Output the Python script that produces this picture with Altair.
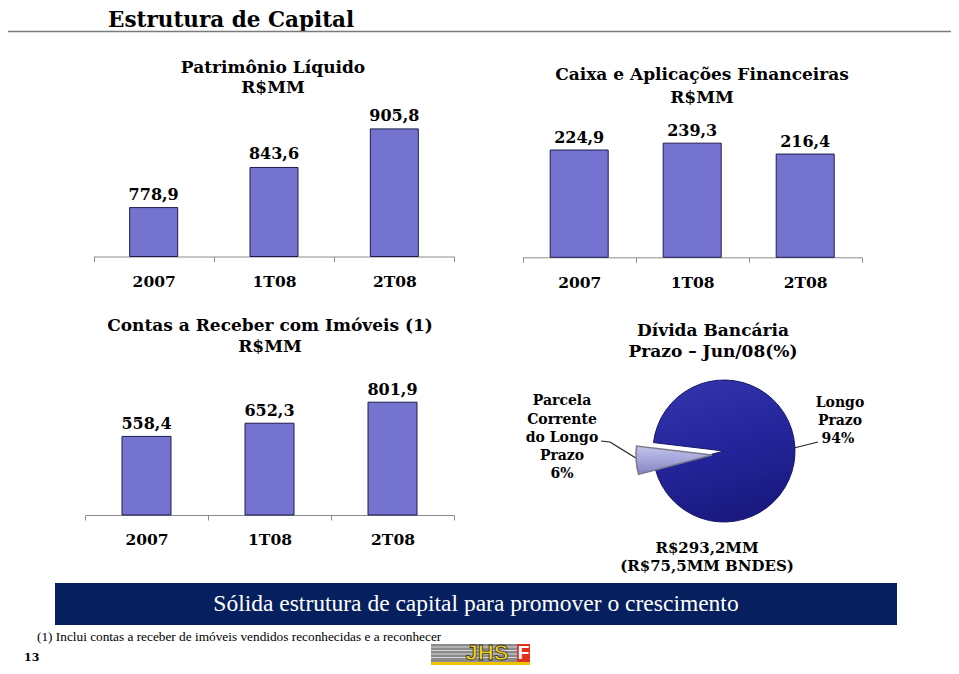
import altair as alt
import pandas as pd

# page is 959x674 with an 8px body margin on every side
W, H = 943, 658


def px(x):
    return x - 8


def py(y):
    return y - 8


# ---------------- data ----------------
periods = ["2007", "1T08", "2T08"]
pl_values = [778.9, 843.6, 905.8]          # Patrimônio Líquido R$MM
caixa_values = [224.9, 239.3, 216.4]       # Caixa e Aplicações Financeiras R$MM
contas_values = [558.4, 652.3, 801.9]      # Contas a Receber com Imóveis R$MM
debt_parts = ["Parcela Corrente do Longo Prazo", "Longo Prazo"]
debt_shares = [6, 94]

SERIF = "DejaVu Serif"
COND = "Liberation Serif"
SANS = "Liberation Sans"
BAR_FILL = "#7474d0"
BAR_STROKE = "#1c1c4c"
AXIS_GRAY = "#8c8c8c"

dummy = pd.DataFrame({"k": [0]})


def fmt(v):
    return f"{v:.1f}".replace(".", ",")


def txt(s, x, y, size=16, weight="bold", font=SERIF, color="black", align="center", **kw):
    return alt.Chart(dummy).mark_text(
        text=s, font=font, fontSize=size, fontWeight=weight, color=color,
        align=align, baseline="middle", **kw
    ).encode(x=alt.value(px(x)), y=alt.value(py(y)))


def rule(x1, y1, x2, y2, color="black", width=1.0):
    return alt.Chart(dummy).mark_rule(color=color, strokeWidth=width).encode(
        x=alt.value(px(x1)), y=alt.value(py(y1)), x2=alt.value(px(x2)), y2=alt.value(py(y2))
    )


def rect(x1, y1, x2, y2, color):
    return alt.Chart(dummy).mark_rect(color=color).encode(
        x=alt.value(px(x1)), y=alt.value(py(y1)), x2=alt.value(px(x2)), y2=alt.value(py(y2))
    )


def bar_panel(values, xrange, ydomain, yrange, bar_width, label_y, label_dy=-12):
    df = pd.DataFrame({"periodo": periods, "valor": values, "rotulo": [fmt(v) for v in values]})
    baseline = yrange[0]
    xenc = alt.X(
        "periodo:N", sort=periods, title=None,
        scale=alt.Scale(range=[px(xrange[0]), px(xrange[1])], paddingInner=0, paddingOuter=0),
        axis=alt.Axis(
            orient="bottom", offset=py(baseline) - H, labelAngle=0, tickBand="extent",
            domainColor=AXIS_GRAY, domainWidth=1, tickColor=AXIS_GRAY, tickSize=5, tickWidth=1,
            labelFont=SERIF, labelFontSize=15.5, labelFontWeight="bold", labelColor="black",
            labelBaseline="middle", labelPadding=label_y - baseline - 5, grid=False,
        ),
    )
    yscale = alt.Scale(domain=ydomain, range=[py(yrange[0]), py(yrange[1])], zero=False, nice=False)
    bars = alt.Chart(df).mark_bar(width=bar_width, fill=BAR_FILL, stroke=BAR_STROKE, strokeWidth=1).encode(
        x=xenc,
        y=alt.Y("valor:Q", scale=yscale, axis=None),
        y2=alt.datum(ydomain[0]),
    )
    labels = alt.Chart(df).mark_text(
        baseline="middle", dy=label_dy, font=SERIF, fontSize=16, fontWeight="bold", color="black"
    ).encode(
        x=xenc,
        y=alt.Y("valor:Q", scale=yscale, axis=None),
        text="rotulo:N",
    )
    return alt.layer(bars, labels)


# ---------------- bar panels ----------------
panel_pl = bar_panel(pl_values, (93.5, 454.5), [700, 1000], (256.5, 70.5), 48, 281, -13)
panel_caixa = bar_panel(caixa_values, (522.7, 861.7), [0, 400], (257.3, 66.5), 58, 282.5, -12)
panel_contas = bar_panel(contas_values, (85, 454), [0, 1000], (515, 374.3), 49, 539, -12)

# ---------------- pie ----------------
pie_df = pd.DataFrame({"parte": debt_parts, "pct": debt_shares, "ordem": [0, 1]})
start = 4.454
theta_scale = alt.Scale(domain=[0, 100], range=[start, start + 6.283185])

pie_base = alt.Chart(pie_df).transform_stack(
    stack="pct", groupby=[], sort=[alt.SortField("ordem")], as_=["t0", "t1"]
)
main_slice = pie_base.transform_filter(alt.datum.ordem == 1).mark_arc(
    radius=71,
    fill={"gradient": "linear", "x1": 0, "y1": 0, "x2": 0.3, "y2": 1,
          "stops": [{"offset": 0, "color": "#3636ac"}, {"offset": 0.6, "color": "#24249a"},
                    {"offset": 1, "color": "#1a1a82"}]},
    stroke="#16166a", strokeWidth=1,
).encode(
    theta=alt.Theta("t0:Q", scale=theta_scale),
    theta2="t1:Q",
    x=alt.value(px(724)), y=alt.value(py(451)),
)
small_slice = pie_base.transform_filter(alt.datum.ordem == 0).mark_arc(
    radius=76,
    fill={"gradient": "linear", "x1": 0, "y1": 0, "x2": 0, "y2": 1,
          "stops": [{"offset": 0, "color": "#c4c4ec"}, {"offset": 1, "color": "#8484c4"}]},
    stroke="#7a7a8a", strokeWidth=1.5,
).encode(
    theta=alt.Theta("t0:Q", scale=theta_scale),
    theta2="t1:Q",
    x=alt.value(px(712)), y=alt.value(py(455)),
)

# ---------------- decorations / texts ----------------
decor = [
    txt("Estrutura de Capital", 108, 21, size=21.5, align="left"),
    rule(0, 31.5, 959, 31.5, color="#7a7a7a", width=1.5),
    # panel titles
    txt("Patrimônio Líquido", 273, 68, size=17),
    txt("R$MM", 273, 88, size=17),
    txt("Caixa e Aplicações Financeiras", 702, 75, size=17),
    txt("R$MM", 702, 98, size=17),
    txt("Contas a Receber com Imóveis (1)", 270, 326, size=17),
    txt("R$MM", 270, 347, size=17),
    txt("Dívida Bancária", 713, 331, size=17),
    txt("Prazo – Jun/08(%)", 713, 352, size=17),
    # pie labels
    txt("Parcela", 562, 401, size=14),
    txt("Corrente", 562, 419.5, size=14),
    txt("do Longo", 562, 438, size=14),
    txt("Prazo", 562, 456, size=14),
    txt("6%", 562, 474, size=14),
    txt("Longo", 840, 402.5, size=14),
    txt("Prazo", 840, 420.5, size=14),
    txt("94%", 838, 438.5, size=14),
    rule(601, 441, 610, 442, color="#222222", width=1.2),
    rule(610, 442, 639, 460, color="#222222", width=1.2),
    rule(794, 448, 818, 442, color="#222222", width=1.2),
    txt("R$293,2MM", 707, 548, size=15),
    txt("(R$75,5MM BNDES)", 707, 566, size=15),
    # banner
    rect(55, 583, 897, 625, "#061f5e"),
    txt("Sólida estrutura de capital para promover o crescimento", 476, 604,
        size=23.5, weight="normal", font=COND, color="white"),
    # footnote & page number
    txt("(1) Inclui contas a receber  de imóveis vendidos reconhecidas e a reconhecer", 37, 637,
        size=13.3, weight="normal", font=COND, align="left"),
    txt("13", 24, 658, size=11, align="left"),
    # logo
    rect(431, 644, 517, 662, "#8a8a8a"),
    rule(431, 647, 517, 647, color="#d8d8d8", width=1),
    rule(431, 650.5, 517, 650.5, color="#d8d8d8", width=1),
    rule(431, 654, 517, 654, color="#d8d8d8", width=1),
    rule(431, 657.5, 517, 657.5, color="#d8d8d8", width=1),
    rect(517, 644, 530, 662, "#e0301e"),
    rect(431, 662, 530, 665, "#f2c200"),
    txt("JHS", 487, 653, size=22, font=SANS, color="#f7d117", stroke="#333333", strokeWidth=0.8),
    txt("F", 523.5, 653, size=19, font=SANS, color="white"),
]

chart = alt.layer(
    *decor, panel_pl, panel_caixa, panel_contas, main_slice, small_slice
).resolve_scale(
    x="independent", y="independent"
).properties(
    width=W, height=H, autosize=alt.AutoSizeParams(type="none"), padding=0,
    background="white",
).configure_view(stroke=None)

chart.save("out.html", embed_options={"renderer": "svg", "actions": False})
